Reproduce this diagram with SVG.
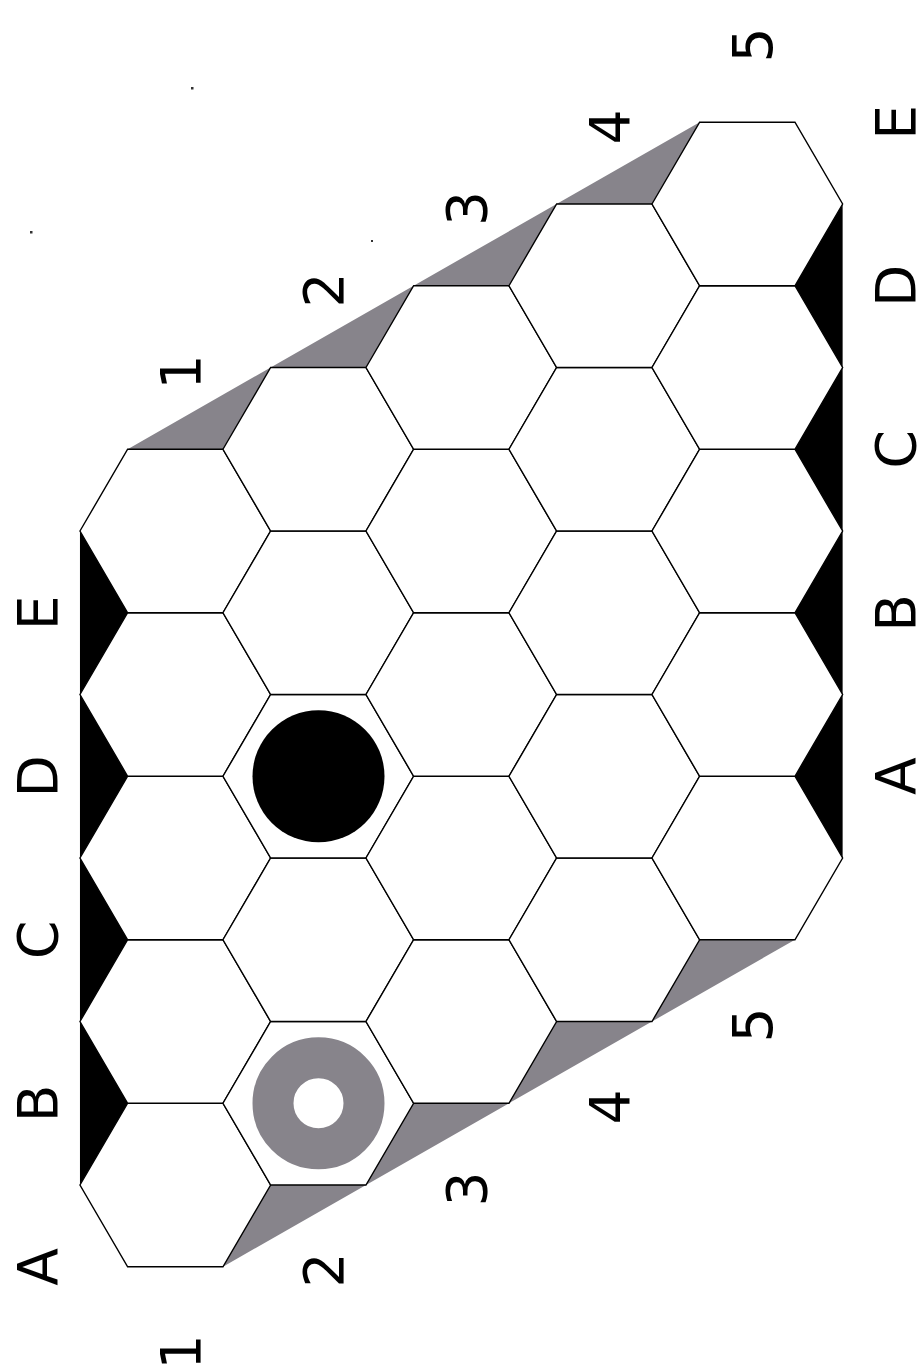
<svg xmlns="http://www.w3.org/2000/svg" xmlns:xlink="http://www.w3.org/1999/xlink" width="919" height="1370" viewBox="0 0 919 1370">
<style>
.hex{fill:#ffffff;stroke:#000000;stroke-width:1.4}
.lbl{font-family:"DejaVu Sans","Liberation Sans",sans-serif;font-size:55px;fill:#000000;text-anchor:middle}
.gray{fill:#87848b}
.blk{fill:#000000}
</style>
<defs>
<polygon id="hx" points="-95.33,0 -47.67,-81.75 47.67,-81.75 95.33,0 47.67,81.75 -47.67,81.75"/>
</defs>
<rect x="0" y="0" width="919" height="1370" fill="#ffffff"/>
<g id="borders">
<polygon class="gray" points="127.63,449.25 222.97,449.25 270.63,367.5 365.97,367.5 413.63,285.75 508.97,285.75 556.63,204 651.97,204 699.63,122.25"/>
<polygon class="gray" points="222.97,1266.75 270.63,1185 365.97,1185 413.63,1103.25 508.97,1103.25 556.63,1021.5 651.97,1021.5 699.63,939.75 794.97,939.75"/>
<polygon class="blk" points="79.97,531 127.63,612.75 79.97,694.5 127.63,776.25 79.97,858 127.63,939.75 79.97,1021.5 127.63,1103.25 79.97,1185"/>
<polygon class="blk" points="842.63,204 794.97,285.75 842.63,367.5 794.97,449.25 842.63,531 794.97,612.75 842.63,694.5 794.97,776.25 842.63,858"/>
</g>
<g id="hex-A1"><use xlink:href="#hx" class="hex" transform="translate(175.3,1185)"/></g>
<g id="hex-B1"><use xlink:href="#hx" class="hex" transform="translate(175.3,1021.5)"/></g>
<g id="hex-C1"><use xlink:href="#hx" class="hex" transform="translate(175.3,858)"/></g>
<g id="hex-D1"><use xlink:href="#hx" class="hex" transform="translate(175.3,694.5)"/></g>
<g id="hex-E1"><use xlink:href="#hx" class="hex" transform="translate(175.3,531)"/></g>
<g id="hex-A2"><use xlink:href="#hx" class="hex" transform="translate(318.3,1103.25)"/></g>
<g id="hex-B2"><use xlink:href="#hx" class="hex" transform="translate(318.3,939.75)"/></g>
<g id="hex-C2"><use xlink:href="#hx" class="hex" transform="translate(318.3,776.25)"/></g>
<g id="hex-D2"><use xlink:href="#hx" class="hex" transform="translate(318.3,612.75)"/></g>
<g id="hex-E2"><use xlink:href="#hx" class="hex" transform="translate(318.3,449.25)"/></g>
<g id="hex-A3"><use xlink:href="#hx" class="hex" transform="translate(461.3,1021.5)"/></g>
<g id="hex-B3"><use xlink:href="#hx" class="hex" transform="translate(461.3,858)"/></g>
<g id="hex-C3"><use xlink:href="#hx" class="hex" transform="translate(461.3,694.5)"/></g>
<g id="hex-D3"><use xlink:href="#hx" class="hex" transform="translate(461.3,531)"/></g>
<g id="hex-E3"><use xlink:href="#hx" class="hex" transform="translate(461.3,367.5)"/></g>
<g id="hex-A4"><use xlink:href="#hx" class="hex" transform="translate(604.3,939.75)"/></g>
<g id="hex-B4"><use xlink:href="#hx" class="hex" transform="translate(604.3,776.25)"/></g>
<g id="hex-C4"><use xlink:href="#hx" class="hex" transform="translate(604.3,612.75)"/></g>
<g id="hex-D4"><use xlink:href="#hx" class="hex" transform="translate(604.3,449.25)"/></g>
<g id="hex-E4"><use xlink:href="#hx" class="hex" transform="translate(604.3,285.75)"/></g>
<g id="hex-A5"><use xlink:href="#hx" class="hex" transform="translate(747.3,858)"/></g>
<g id="hex-B5"><use xlink:href="#hx" class="hex" transform="translate(747.3,694.5)"/></g>
<g id="hex-C5"><use xlink:href="#hx" class="hex" transform="translate(747.3,531)"/></g>
<g id="hex-D5"><use xlink:href="#hx" class="hex" transform="translate(747.3,367.5)"/></g>
<g id="hex-E5"><use xlink:href="#hx" class="hex" transform="translate(747.3,204)"/></g>
<g id="stone-black"><circle cx="318.5" cy="776.3" r="66" fill="#000000"/></g>
<g id="stone-ring"><circle cx="318.5" cy="1103.3" r="45.5" fill="none" stroke="#87848b" stroke-width="41"/></g>
<g id="connectors"></g>
<g id="labels">
<text class="lbl" transform="translate(57,1267) rotate(-90)">A</text>
<text class="lbl" transform="translate(57,1103.3) rotate(-90)">B</text>
<text class="lbl" transform="translate(57,939.8) rotate(-90)">C</text>
<text class="lbl" transform="translate(57,776.3) rotate(-90)">D</text>
<text class="lbl" transform="translate(57,612.8) rotate(-90)">E</text>
<text class="lbl" transform="translate(915,776.3) rotate(-90)">A</text>
<text class="lbl" transform="translate(915,612.8) rotate(-90)">B</text>
<text class="lbl" transform="translate(915,449.3) rotate(-90)">C</text>
<text class="lbl" transform="translate(915,285.8) rotate(-90)">D</text>
<text class="lbl" transform="translate(915,122.3) rotate(-90)">E</text>
<text class="lbl" transform="translate(200,1352) rotate(-90)">1</text>
<text class="lbl" transform="translate(343,1270) rotate(-90)">2</text>
<text class="lbl" transform="translate(486,1189) rotate(-90)">3</text>
<text class="lbl" transform="translate(629,1107) rotate(-90)">4</text>
<text class="lbl" transform="translate(772,1025) rotate(-90)">5</text>
<text class="lbl" transform="translate(200,372) rotate(-90)">1</text>
<text class="lbl" transform="translate(343,290) rotate(-90)">2</text>
<text class="lbl" transform="translate(486,208.5) rotate(-90)">3</text>
<text class="lbl" transform="translate(629,127) rotate(-90)">4</text>
<text class="lbl" transform="translate(772,45) rotate(-90)">5</text>
</g>
<g id="specks" fill="#333333">
<rect x="191" y="87" width="2.5" height="2.5"/>
<rect x="371" y="240" width="2" height="2"/>
<rect x="30" y="231" width="2.5" height="2.5"/>
</g>
</svg>
